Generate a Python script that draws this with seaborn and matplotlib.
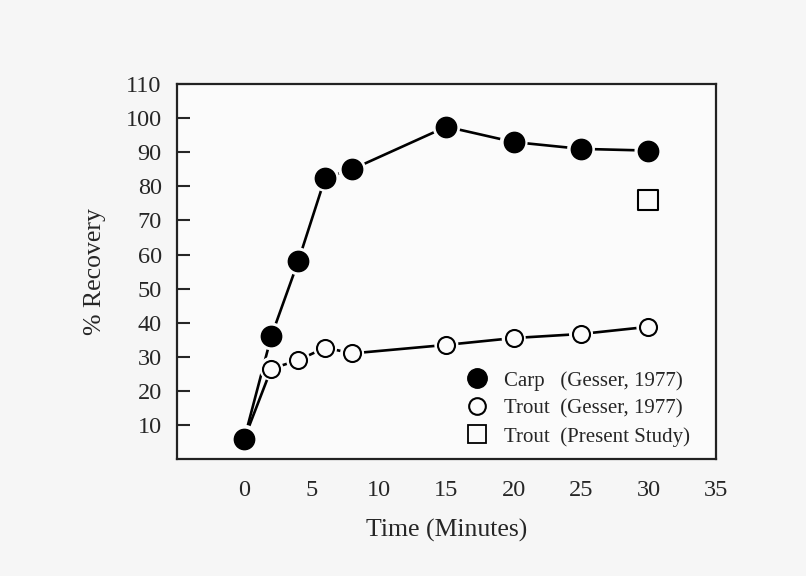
import matplotlib
matplotlib.use("Agg")
import matplotlib.pyplot as plt
from matplotlib.lines import Line2D
import seaborn as sns
import pandas as pd

# valores
tiempo = [0, 2, 4, 6, 8, 15, 20, 25, 30]
carpa = [6, 36, 58, 82.5, 85, 97.5, 93, 91, 90.5]
trucha = [6, 26.5, 29, 32.7, 31, 33.5, 35.5, 36.7, 38.8]
tiempo_presente = [30]
trucha_presente = [76]
xticks = [0, 5, 10, 15, 20, 25, 30, 35]
yticks = [10, 20, 30, 40, 50, 60, 70, 80, 90, 100, 110]

sns.set_theme(style="ticks")
plt.rcParams['font.family'] = ['Liberation Serif', 'DejaVu Serif']

df_carpa = pd.DataFrame({"t": tiempo, "r": carpa})
df_trucha = pd.DataFrame({"t": tiempo, "r": trucha})
df_pres = pd.DataFrame({"t": tiempo_presente, "r": trucha_presente})

fig = plt.figure(figsize=(8.06, 5.76), dpi=100, facecolor="#f6f6f6")
ax = fig.add_axes([0.2196, 0.203, 0.6684, 0.651])
ax.set_facecolor("#fbfbfb")

# lineas
sns.lineplot(data=df_trucha, x="t", y="r", ax=ax, color="black", linewidth=1.9)
sns.lineplot(data=df_carpa, x="t", y="r", ax=ax, color="black", linewidth=1.9)

# mascaras blancas para dejar un hueco entre linea y marcador
sns.scatterplot(data=df_trucha, x="t", y="r", ax=ax, s=300, color="#fbfbfb",
                edgecolor="none", zorder=3)
sns.scatterplot(data=df_carpa, x="t", y="r", ax=ax, s=400, color="#fbfbfb",
                edgecolor="none", zorder=3)

# marcadores
sns.scatterplot(data=df_trucha, x="t", y="r", ax=ax, s=150, marker="o",
                facecolor="#fbfbfb", edgecolor="black", linewidth=1.5, zorder=4)
sns.scatterplot(data=df_carpa, x="t", y="r", ax=ax, s=210, marker="o",
                color="black", edgecolor="black", zorder=5)
sns.scatterplot(data=df_pres, x="t", y="r", ax=ax, s=200, marker="s",
                facecolor="#fbfbfb", edgecolor="black", linewidth=1.5, zorder=5)

ax.set_xlim(-5, 35)
ax.set_ylim(0, 110)
ax.set_xticks(xticks)
ax.set_yticks(yticks)
ax.tick_params(axis="x", length=0, pad=15, labelsize=17.5)
ax.tick_params(axis="y", direction="in", length=9, width=1.5, pad=11, labelsize=17.5)
for sp in ax.spines.values():
    sp.set_linewidth(1.6)
    sp.set_color("#222222")

ax.set_xlabel("Time (Minutes)", fontsize=18.5, labelpad=13)
ax.set_ylabel("% Recovery", fontsize=18.5, labelpad=14)

handles = [
    Line2D([], [], marker="o", linestyle="none", markersize=14,
           markerfacecolor="black", markeredgecolor="black"),
    Line2D([], [], marker="o", linestyle="none", markersize=12,
           markerfacecolor="none", markeredgecolor="black", markeredgewidth=1.5),
    Line2D([], [], marker="s", linestyle="none", markersize=13,
           markerfacecolor="none", markeredgecolor="black", markeredgewidth=1.3),
]
labels = ["Carp   (Gesser, 1977)", "Trout  (Gesser, 1977)", "Trout  (Present Study)"]
ax.legend(handles, labels, loc="lower right", frameon=False, fontsize=15,
          handletextpad=0.3, labelspacing=0.4, borderaxespad=0.2,
          bbox_to_anchor=(0.975, 0.0))

fig.savefig("out.png", dpi=100, facecolor=fig.get_facecolor())
